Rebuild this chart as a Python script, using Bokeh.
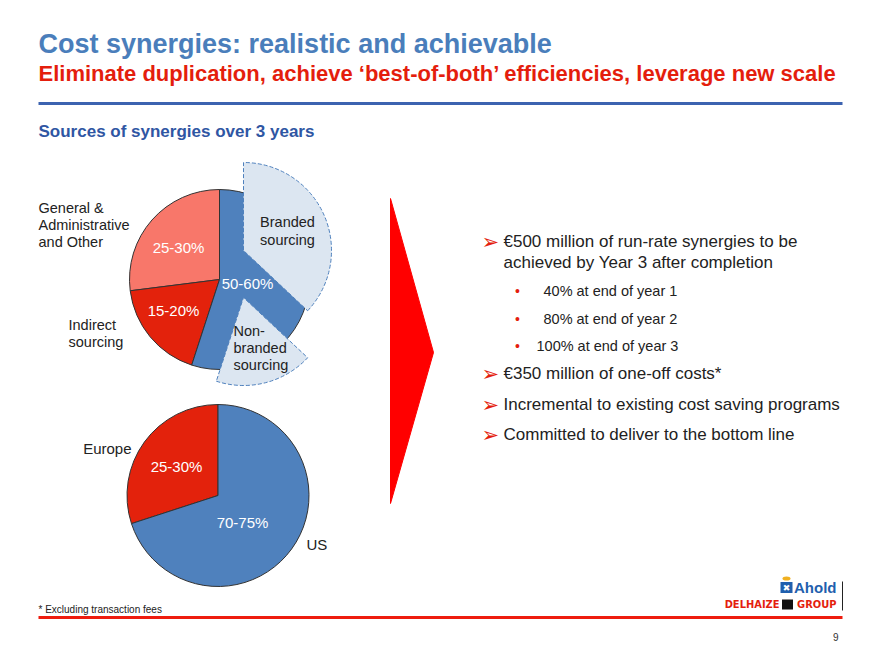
import numpy as np
from bokeh.plotting import figure
from bokeh.models import Range1d
from bokeh.core.properties import value
from bokeh.embed import file_html
from bokeh.resources import INLINE

# ---------------- data ----------------
title = "Cost synergies: realistic and achievable"
subtitle = "Eliminate duplication, achieve \u2018best-of-both\u2019 efficiencies, leverage new scale"
section = "Sources of synergies over 3 years"

func_names = ["General & Administrative and Other", "Indirect sourcing", "Sourcing"]
func_values = [27, 18, 55]
func_pct = ["25-30%", "15-20%", "50-60%"]
func_colors = ["#f8776a", "#e3220c", "#4f81bd"]

sourcing_names = ["Non-branded sourcing", "Branded sourcing"]
sourcing_values = [18, 37]

geo_names = ["Europe", "US"]
geo_values = [30, 70]
geo_pct = ["25-30%", "70-75%"]
geo_colors = ["#e3220c", "#4f81bd"]

bullets = ["\u20ac500 million of run-rate synergies to be",
           "achieved by Year 3 after completion",
           "\u20ac350 million of one-off costs*",
           "Incremental to existing cost saving programs",
           "Committed to deliver to the bottom line"]
sub_bullets = ["40% at end of year 1", "80% at end of year 2", "100% at end of year 3"]
footnote = "* Excluding transaction fees"
page_no = "9"

# ---------------- figure ----------------
W, H = 880, 660
p = figure(width=W, height=H, x_range=Range1d(0, W), y_range=Range1d(0, H),
           output_backend="svg", toolbar_location=None, min_border=0,
           x_axis_type=None, y_axis_type=None)
p.grid.visible = False
p.outline_line_color = None
p.background_fill_color = "white"
p.border_fill_color = "white"


def Y(v):
    return H - v


def txt(x, y, s, size, color, bold=False, align="left", font="Liberation Sans"):
    p.text(x=[x], y=[Y(y)], text=[s], text_font=value(font),
           text_font_size=f"{size}px", text_font_style="bold" if bold else "normal",
           text_color=color, text_align=align, text_baseline="middle")


def wedges(cx, cy, r, vals, start_deg, colors, line_color="#333333"):
    fr = np.array(vals, dtype=float) / 100.0
    ang0 = np.radians(start_deg)
    cum = np.concatenate([[0], np.cumsum(fr)]) * 2 * np.pi
    starts = ang0 + cum[:-1]
    ends = ang0 + cum[1:]
    p.wedge(x=[cx] * len(vals), y=[Y(cy)] * len(vals), radius=r,
            start_angle=list(starts), end_angle=list(ends),
            fill_color=colors, line_color=line_color, line_width=1)
    return starts, ends

# titles
txt(38, 43, title, 27, "#4a7ebb", bold=True)
txt(38, 73, subtitle, 22, "#e41e0d", bold=True)
p.line(x=[38, 842], y=[Y(103), Y(103)], line_color="#3c63b0", line_width=3)
txt(38, 131, section, 17, "#2f56a3", bold=True)

# ---- pie 1 ----
c1x, c1y, r1 = 219, 279, 90
s, e = wedges(c1x, c1y, r1, func_values, 90, func_colors)
src_start = s[2]
fr_nb = sourcing_values[0] / 100.0
# exploded sub-slices of the sourcing slice
p.wedge(x=[c1x + 24], y=[Y(c1y + 18)], radius=88,
        start_angle=[src_start], end_angle=[src_start + fr_nb * 2 * np.pi],
        fill_color="#dce6f1", line_color="#4f81bd", line_width=1, line_dash="4 2")
p.wedge(x=[c1x + 24], y=[Y(c1y - 29)], radius=88,
        start_angle=[src_start + fr_nb * 2 * np.pi], end_angle=[e[2]],
        fill_color="#dce6f1", line_color="#4f81bd", line_width=1, line_dash="4 2")

txt(178, 247, func_pct[0], 15, "white", align="center")
txt(173, 310, func_pct[1], 15, "white", align="center")
txt(247, 283, func_pct[2], 15, "white", align="center")

for i, line in enumerate(["General &", "Administrative", "and Other"]):
    txt(38, 207 + 17 * i, line, 14.5, "#222222")
for i, line in enumerate(["Indirect", "sourcing"]):
    txt(68, 324 + 17 * i, line, 14.5, "#222222")
for i, line in enumerate(["Branded", "sourcing"]):
    txt(287, 221 + 18 * i, line, 14.5, "#222222", align="center")
for i, line in enumerate(["Non-", "branded", "sourcing"]):
    txt(233, 330 + 17 * i, line, 14.5, "#222222")

# ---- pie 2 ----
c2x, c2y, r2 = 217.5, 495, 91
wedges(c2x, c2y, r2, geo_values, 90, geo_colors)
txt(176, 466, geo_pct[0], 15, "white", align="center")
txt(242, 522, geo_pct[1], 15, "white", align="center")
txt(131, 448, geo_names[0], 15, "#222222", align="right")
txt(306, 544, geo_names[1], 15, "#222222")

# ---- chevron ----
p.patch(x=[390, 433, 390], y=[Y(198), Y(352), Y(503)], fill_color="#ff0000", line_color="#ff0000")

# ---- bullet text ----
arrow_rows = [241, 373, 404, 434]
for yy in arrow_rows:
    txt(481, yy, "\u27a2", 21, "#e41e0d", font="DejaVu Sans")
txt(503, 241, bullets[0], 17, "#222222")
txt(503, 262, bullets[1], 17, "#222222")
txt(503, 373, bullets[2], 17, "#222222")
txt(503, 404, bullets[3], 17, "#222222")
txt(503, 434, bullets[4], 17, "#222222")
for yy, xx, s_ in zip([290, 318, 345], [543, 543, 536], sub_bullets):
    txt(517, yy, "\u2022", 14, "#e41e0d", align="center")
    txt(xx, yy, s_, 14.5, "#222222")

# ---- footer ----
txt(38, 609, footnote, 10, "#222222")
p.line(x=[38, 842], y=[Y(617), Y(617)], line_color="#ee1c0e", line_width=3)
txt(838, 636, page_no, 10, "#333333", align="right")

# ---- logo ----
p.line(x=[842, 842], y=[Y(581), Y(610)], line_color="#222222", line_width=1)
p.rect(x=[786], y=[Y(587)], width=12, height=11, fill_color="#1f5fae", line_color=None)
txt(786, 587, "\u2716", 9, "white", align="center", font="DejaVu Sans")
p.ellipse(x=[786], y=[Y(578)], width=8, height=4, fill_color="#f0b020", line_color=None)
txt(836, 587, "Ahold", 15, "#1f5fae", bold=True, align="right")
txt(779, 604, "DELHAIZE", 11, "#e41e0d", bold=True, align="right", font="DejaVu Sans Condensed")
p.rect(x=[787], y=[Y(604)], width=11, height=10, fill_color="#111111", line_color=None)
txt(836, 604, "GROUP", 11, "#e41e0d", bold=True, align="right", font="DejaVu Sans Condensed")

open("out.html", "w").write(file_html(p, INLINE))
